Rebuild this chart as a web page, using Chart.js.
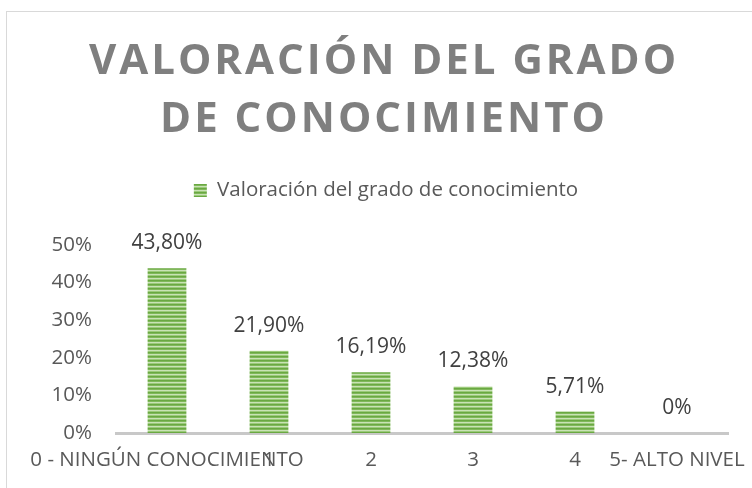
<!DOCTYPE html>
<html>
<head>
<meta charset="utf-8">
<script src="https://cdn.jsdelivr.net/npm/chart.js@4.4.1/dist/chart.umd.min.js"></script>
<style>
  html, body { margin: 0; padding: 0; background: #fff; overflow: hidden; }
  #wrap { position: relative; width: 752px; height: 488px; }
  #frame { position: absolute; left: 6px; top: 11px; width: 800px; height: 600px; border: 1.5px solid #d9d9d9; }
  #chart { position: absolute; left: 0; top: 0; }
</style>
</head>
<body>
<div id="wrap">
  <div id="frame"></div>
  <canvas id="chart" width="752" height="488"></canvas>
</div>
<script>
// datos del grafico
const categorias = ['0 - NINGÚN CONOCIMIENTO', '1', '2', '3', '4', '5- ALTO NIVEL'];
const valores = [0.438, 0.219, 0.1619, 0.1238, 0.0571, 0];
const ticksY = [0, 0.1, 0.2, 0.3, 0.4, 0.5];
const tituloLineas = ['VALORACIÓN DEL GRADO', 'DE CONOCIMIENTO'];
const serie = 'Valoración del grado de conocimiento';

const FONT = "'Open Sans', sans-serif";
const TXT = 20.5;

// relleno rayado verde como en Excel
function rayado() {
    const c = document.createElement('canvas');
    c.width = 4;
    c.height = 4;
    const g = c.getContext('2d');
    const filas = ['#6aa842', '#80b85a', '#c9e2b6', '#9bca7a'];
    filas.forEach((col, i) => {
        g.fillStyle = col;
        g.fillRect(0, i, 4, 1);
    });
    return g.createPattern(c, 'repeat');
}

function fmtPct(v) {
    if (v === 0) return '0%';
    return (v * 100).toFixed(2).replace('.', ',') + '%';
}

// el grafico original es mas ancho que el recorte: titulo y leyenda centrados mas a la derecha
function desplazar(box, dx, espaciado) {
    const draw = box.draw;
    box.draw = function (area) {
        const ctx = this.ctx;
        ctx.save();
        ctx.translate(dx, 0);
        if (espaciado) ctx.letterSpacing = espaciado;
        draw.call(this, area);
        ctx.restore();
    };
}

const ajustes = {
    id: 'ajustes',
    afterInit(chart) {
        // espacio extra bajo la leyenda
        const fitLeyenda = chart.legend.fit;
        chart.legend.fit = function () {
            fitLeyenda.call(this);
            this.height += 34.25;
        };
        desplazar(chart.titleBlock, 20, '3px');
        desplazar(chart.legend, 22);
    },
    afterDatasetsDraw(chart) {
        const ctx = chart.ctx;
        const meta = chart.getDatasetMeta(0);
        ctx.save();
        ctx.font = '21px ' + FONT;
        ctx.fillStyle = '#404040';
        ctx.textAlign = 'center';
        ctx.textBaseline = 'middle';
        meta.data.forEach((bar, i) => {
            ctx.fillText(fmtPct(valores[i]), bar.x, bar.y - 25);
        });
        ctx.restore();
    }
};

new Chart(document.getElementById('chart'), {
    type: 'bar',
    data: {
        labels: categorias,
        datasets: [{
            label: serie,
            data: valores,
            backgroundColor: rayado(),
            borderWidth: 0,
            categoryPercentage: 1,
            barPercentage: 0.38
        }]
    },
    options: {
        responsive: false,
        animation: false,
        layout: { padding: { left: 0, right: 24, top: 0, bottom: 0 } },
        plugins: {
            title: {
                display: true,
                text: tituloLineas,
                color: '#7f7f7f',
                font: { family: FONT, size: 42, weight: 'bold', lineHeight: '58px' },
                padding: { top: 33, bottom: 21.25 }
            },
            legend: {
                display: true,
                labels: {
                    color: '#595959',
                    font: { family: FONT, size: TXT },
                    boxWidth: 13,
                    boxHeight: 13,
                    padding: 10
                }
            },
            tooltip: { enabled: false }
        },
        scales: {
            x: {
                grid: { display: false, drawTicks: false },
                border: { display: true, color: '#c8c8c8', width: 3 },
                ticks: {
                    color: '#595959',
                    font: { family: FONT, size: TXT },
                    autoSkip: false,
                    maxRotation: 0,
                    minRotation: 0,
                    padding: 14.7
                },
                afterFit(scale) {
                    scale.height = 55;
                    scale.paddingLeft = 0;
                    scale.paddingRight = 0;
                }
            },
            y: {
                min: ticksY[0],
                max: ticksY[ticksY.length - 1],
                grid: { display: false, drawTicks: false },
                border: { display: false },
                afterBuildTicks(scale) {
                    scale.ticks = ticksY.map(v => ({ value: v }));
                },
                ticks: {
                    color: '#595959',
                    font: { family: FONT, size: TXT },
                    padding: 24,
                    callback: (v) => Math.round(v * 100) + '%'
                },
                afterFit(scale) {
                    scale.width = 116;
                }
            }
        }
    },
    plugins: [ajustes]
});
</script>
</body>
</html>
